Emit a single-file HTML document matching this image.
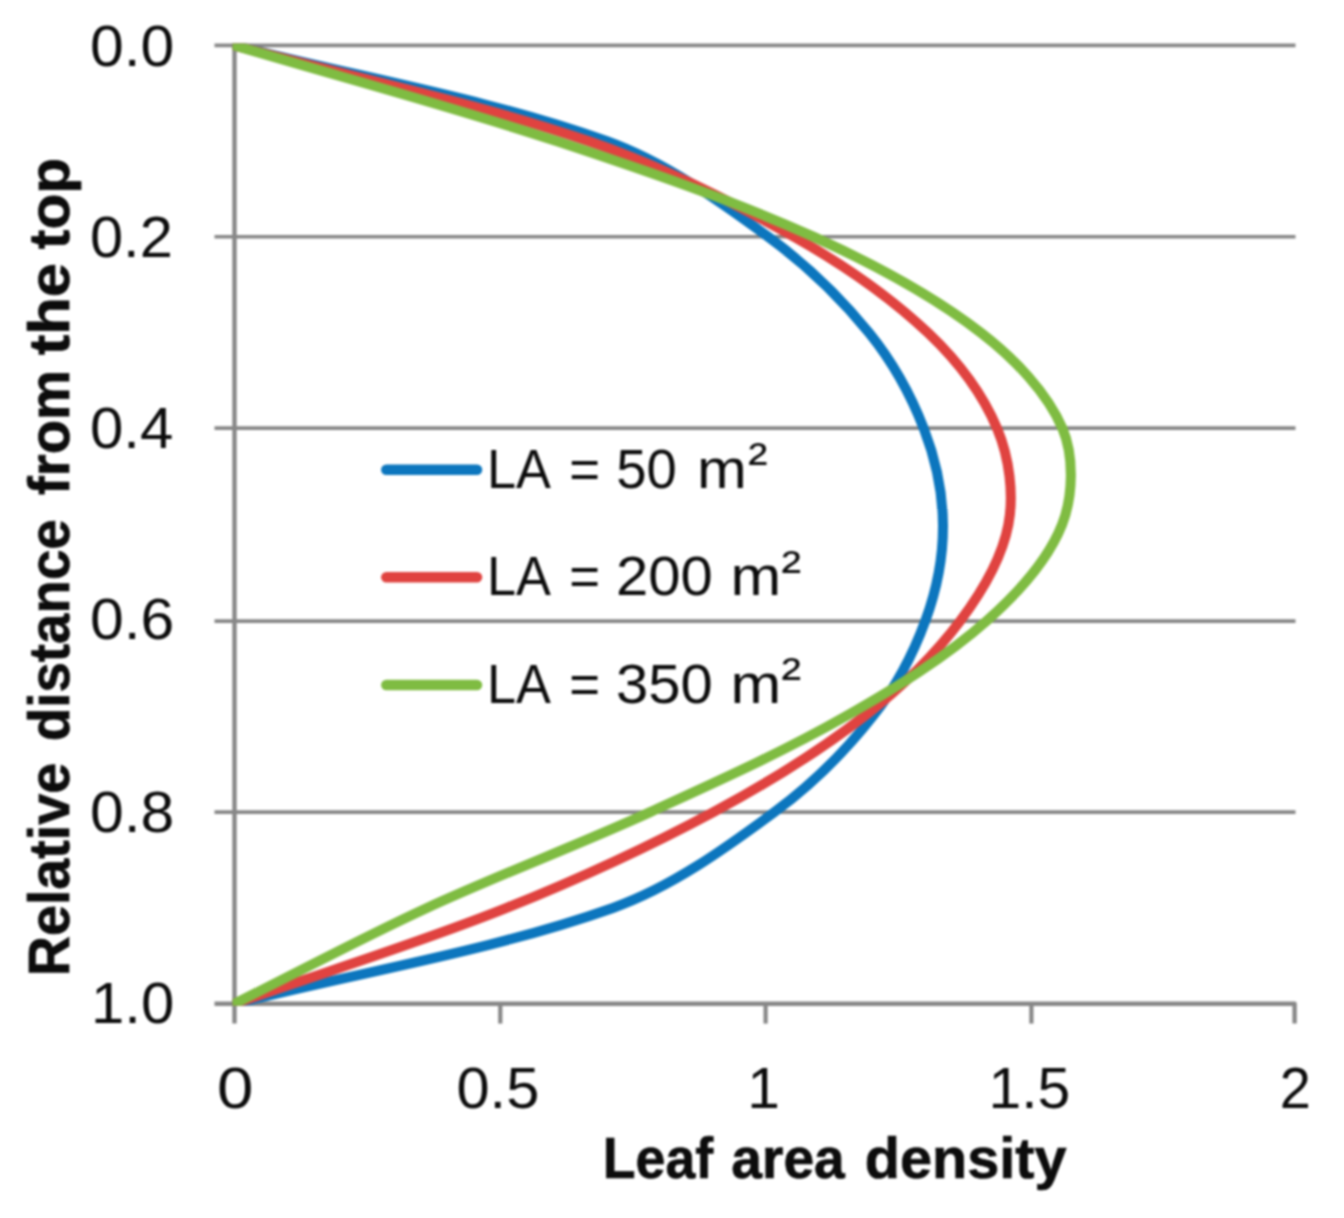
<!DOCTYPE html>
<html><head><meta charset="utf-8"><title>Leaf area density</title>
<style>html,body{margin:0;padding:0;background:#fff;}svg{display:block;filter:blur(1.1px);}</style></head>
<body><svg width="1344" height="1218" viewBox="0 0 1344 1218">
<rect width="1344" height="1218" fill="#fff"/>
<g stroke="#878787" fill="none"><line x1="214.5" y1="45.40" x2="1295.5" y2="45.40" stroke-width="3.6"/><line x1="214.5" y1="236.80" x2="1295.5" y2="236.80" stroke-width="3.6"/><line x1="214.5" y1="428.10" x2="1295.5" y2="428.10" stroke-width="3.6"/><line x1="214.5" y1="621.10" x2="1295.5" y2="621.10" stroke-width="3.6"/><line x1="214.5" y1="812.10" x2="1295.5" y2="812.10" stroke-width="3.6"/><path d="M214.5,1003.70 H1294.6 V1023.6" stroke-width="4.4" stroke-linejoin="round"/><line x1="234.50" y1="43.7" x2="234.50" y2="1023.6" stroke-width="4.4"/><line x1="500.30" y1="1003.70" x2="500.30" y2="1023.6" stroke-width="4.2"/><line x1="765.60" y1="1003.70" x2="765.60" y2="1023.6" stroke-width="4.2"/><line x1="1031.40" y1="1003.70" x2="1031.40" y2="1023.6" stroke-width="4.2"/></g>
<clipPath id="plot"><rect x="232.5" y="43.6" width="1064" height="962.2"/></clipPath>
<g clip-path="url(#plot)" fill="none" stroke-width="10.0" stroke-linecap="round" stroke-linejoin="round"><path d="M234.50,45.50 C358.69,77.44 487.44,98.40 607.08,141.32 C665.49,162.29 718.43,200.41 768.66,237.15 C805.77,264.30 840.29,297.38 869.11,332.97 C892.02,361.27 910.80,394.92 923.86,428.80 C935.42,458.80 942.73,492.63 942.99,524.62 C943.26,556.52 936.48,590.35 925.46,620.45 C913.09,654.23 895.14,687.96 872.83,716.27 C844.82,751.84 811.09,785.12 774.51,812.10 C724.45,849.01 671.41,887.17 612.93,907.93 C491.41,951.05 360.64,971.81 234.50,1003.75" stroke="#0c76be"/><path d="M234.50,45.50 C352.66,77.44 473.58,101.84 588.99,141.32 C660.31,165.73 729.12,200.09 794.70,237.15 C842.16,263.97 888.84,295.82 928.11,332.97 C956.35,359.70 982.48,393.63 997.21,428.80 C1009.23,457.52 1014.16,494.35 1008.37,524.62 C1001.94,558.23 981.71,592.28 960.54,620.45 C933.70,656.16 899.89,688.70 864.33,716.27 C817.51,752.58 765.81,784.01 713.38,812.10 C646.57,847.90 577.07,879.73 506.63,907.93 C417.44,943.62 325.21,971.81 234.50,1003.75" stroke="#e04340"/><path d="M234.50,45.50 C342.04,77.44 450.67,106.14 557.13,141.32 C643.96,170.02 731.26,199.59 814.37,237.15 C872.63,263.48 931.21,294.33 981.26,332.97 C1013.95,358.21 1047.30,392.55 1062.58,428.80 C1074.23,456.44 1073.13,496.48 1062.05,524.62 C1047.98,560.36 1017.10,593.88 987.10,620.45 C944.99,657.76 895.09,688.20 845.72,716.27 C782.77,752.08 716.13,781.90 650.13,812.10 C576.52,845.78 500.41,874.03 426.90,907.93 C361.86,937.91 298.63,971.81 234.50,1003.75" stroke="#7fbc42"/></g>
<line x1="386.3" y1="469.8" x2="477.0" y2="469.8" stroke="#0c76be" stroke-width="10.5" stroke-linecap="round"/><line x1="386.3" y1="577.3" x2="477.0" y2="577.3" stroke="#e04340" stroke-width="10.5" stroke-linecap="round"/><line x1="386.3" y1="685.0" x2="477.0" y2="685.0" stroke="#7fbc42" stroke-width="10.5" stroke-linecap="round"/>
<g font-family="'Liberation Sans', sans-serif" font-size="58" fill="#0c0c0c"><text><tspan x="89.90" y="65.80" textLength="84.46" lengthAdjust="spacingAndGlyphs">0.0</tspan></text>
<text><tspan x="89.94" y="257.00" textLength="82.88" lengthAdjust="spacingAndGlyphs">0.2</tspan></text>
<text><tspan x="89.93" y="448.20" textLength="83.37" lengthAdjust="spacingAndGlyphs">0.4</tspan></text>
<text><tspan x="89.90" y="638.90" textLength="84.46" lengthAdjust="spacingAndGlyphs">0.6</tspan></text>
<text><tspan x="89.90" y="832.10" textLength="84.46" lengthAdjust="spacingAndGlyphs">0.8</tspan></text>
<text><tspan x="91.07" y="1023.40" textLength="83.26" lengthAdjust="spacingAndGlyphs">1.0</tspan></text>
<text><tspan x="217.04" y="1108.40" textLength="36.40" lengthAdjust="spacingAndGlyphs">0</tspan></text>
<text><tspan x="456.44" y="1108.40" textLength="82.88" lengthAdjust="spacingAndGlyphs">0.5</tspan></text>
<text><tspan x="747.35" y="1108.40" textLength="32.63" lengthAdjust="spacingAndGlyphs">1</tspan></text>
<text><tspan x="988.44" y="1108.40" textLength="81.85" lengthAdjust="spacingAndGlyphs">1.5</tspan></text>
<text><tspan x="1279.67" y="1108.40" textLength="31.10" lengthAdjust="spacingAndGlyphs">2</tspan></text>
<text font-size="56"><tspan x="486.93" y="487.50" textLength="61.09" lengthAdjust="spacingAndGlyphs">LA</tspan> <tspan x="569.31" y="487.50" textLength="30.83" lengthAdjust="spacingAndGlyphs">=</tspan> <tspan x="616.16" y="487.50" textLength="60.53" lengthAdjust="spacingAndGlyphs">50</tspan> <tspan x="697.10" y="487.50" textLength="49.80" lengthAdjust="spacingAndGlyphs">m</tspan><tspan x="748.09" y="480.00" textLength="19.63" lengthAdjust="spacingAndGlyphs" font-size="53">²</tspan></text>
<text font-size="56"><tspan x="486.93" y="595.40" textLength="61.09" lengthAdjust="spacingAndGlyphs">LA</tspan> <tspan x="569.31" y="595.40" textLength="30.83" lengthAdjust="spacingAndGlyphs">=</tspan> <tspan x="616.03" y="595.40" textLength="96.69" lengthAdjust="spacingAndGlyphs">200</tspan> <tspan x="730.54" y="595.40" textLength="50.73" lengthAdjust="spacingAndGlyphs">m</tspan><tspan x="781.27" y="587.90" textLength="19.97" lengthAdjust="spacingAndGlyphs" font-size="53">²</tspan></text>
<text font-size="56"><tspan x="486.93" y="702.90" textLength="61.09" lengthAdjust="spacingAndGlyphs">LA</tspan> <tspan x="569.31" y="702.90" textLength="30.83" lengthAdjust="spacingAndGlyphs">=</tspan> <tspan x="616.03" y="702.90" textLength="96.69" lengthAdjust="spacingAndGlyphs">350</tspan> <tspan x="730.54" y="702.90" textLength="50.73" lengthAdjust="spacingAndGlyphs">m</tspan><tspan x="781.27" y="695.40" textLength="19.97" lengthAdjust="spacingAndGlyphs" font-size="53">²</tspan></text>
<text font-weight="bold" stroke="#0c0c0c" stroke-width="0.7"><tspan x="602.72" y="1178.00" textLength="110.44" lengthAdjust="spacingAndGlyphs">Leaf</tspan> <tspan x="731.25" y="1178.00" textLength="113.54" lengthAdjust="spacingAndGlyphs">area</tspan> <tspan x="864.81" y="1178.00" textLength="201.84" lengthAdjust="spacingAndGlyphs">density</tspan></text>
<text font-weight="bold" stroke="#0c0c0c" stroke-width="0.7" transform="translate(68.6,0) rotate(-90)"><tspan x="-976.28" y="0.00" textLength="213.49" lengthAdjust="spacingAndGlyphs">Relative</tspan> <tspan x="-741.19" y="0.00" textLength="221.97" lengthAdjust="spacingAndGlyphs">distance</tspan> <tspan x="-495.00" y="0.00" textLength="125.07" lengthAdjust="spacingAndGlyphs">from</tspan> <tspan x="-355.30" y="0.00" textLength="92.44" lengthAdjust="spacingAndGlyphs">the</tspan> <tspan x="-249.20" y="0.00" textLength="91.35" lengthAdjust="spacingAndGlyphs">top</tspan></text></g>
</svg></body></html>
